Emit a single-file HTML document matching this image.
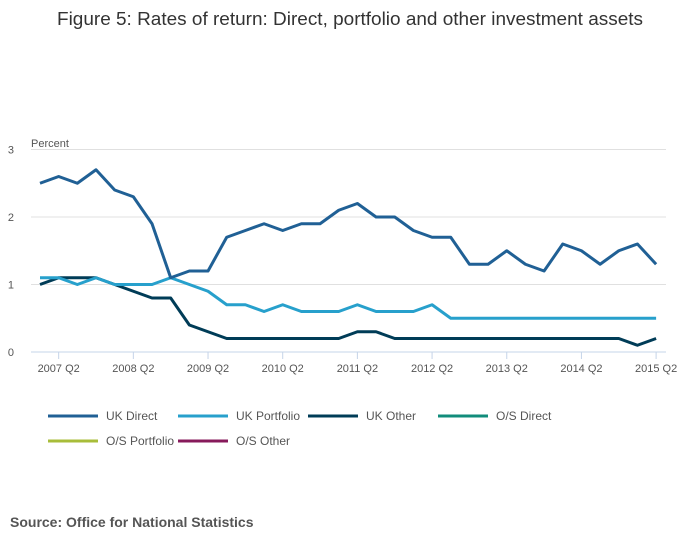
<!DOCTYPE html>
<html><head><meta charset="utf-8"><style>
body{margin:0;background:#fff;font-family:"Liberation Sans",sans-serif;}
svg text{font-family:"Liberation Sans",sans-serif;}
</style></head><body>
<svg width="700" height="549">
<text x="57" y="25" font-size="18.5" fill="#333" textLength="586" lengthAdjust="spacingAndGlyphs">Figure 5: Rates of return: Direct, portfolio and other investment assets</text>
<text x="31" y="147" font-size="11" fill="#555">Percent</text>
<g id="grid"></g><g id="xaxis"></g><g id="series"></g><g id="legend"></g>
<text x="10" y="527" font-size="14" font-weight="bold" fill="#555">Source: Office for National Statistics</text>
</svg>
<script>
const yTicks=[0,1,2,3];
const xTickLabels=["2007 Q2","2008 Q2","2009 Q2","2010 Q2","2011 Q2","2012 Q2","2013 Q2","2014 Q2","2015 Q2"];
const ukDirect=[2.5,2.6,2.5,2.7,2.4,2.3,1.9,1.1,1.2,1.2,1.7,1.8,1.9,1.8,1.9,1.9,2.1,2.2,2.0,2.0,1.8,1.7,1.7,1.3,1.3,1.5,1.3,1.2,1.6,1.5,1.3,1.5,1.6,1.3];
const ukPortfolio=[1.1,1.1,1.0,1.1,1.0,1.0,1.0,1.1,1.0,0.9,0.7,0.7,0.6,0.7,0.6,0.6,0.6,0.7,0.6,0.6,0.6,0.7,0.5,0.5,0.5,0.5,0.5,0.5,0.5,0.5,0.5,0.5,0.5,0.5];
const ukOther=[1.0,1.1,1.1,1.1,1.0,0.9,0.8,0.8,0.4,0.3,0.2,0.2,0.2,0.2,0.2,0.2,0.2,0.3,0.3,0.2,0.2,0.2,0.2,0.2,0.2,0.2,0.2,0.2,0.2,0.2,0.2,0.2,0.1,0.2];
const seriesNames=["UK Direct","UK Portfolio","UK Other","O/S Direct","O/S Portfolio","O/S Other"];
const seriesColors=["#206095","#27a0cc","#003c57","#118c7b","#a8bd3a","#871a5b"];
const NS="http://www.w3.org/2000/svg";
const x0=40,dx=18.67,yBase=352,yTop=149.5,yMax=3;
const xs=i=>x0+i*dx;
const ys=v=>yBase-(v/yMax)*(yBase-yTop);
function mk(t,a,p){const e=document.createElementNS(NS,t);for(const k in a)e.setAttribute(k,a[k]);p.appendChild(e);return e;}
const grid=document.getElementById('grid');
yTicks.forEach(v=>{
 const l=mk('line',{x1:31,x2:666,y1:ys(v),y2:ys(v),stroke:v===0?'#c5d4e8':'#e0e0e0','stroke-width':1},grid);
 
 
 const t=mk('text',{x:14,y:ys(v)+4,'font-size':11,fill:'#555','text-anchor':'end'},grid);
 
 
 t.textContent=v;
});
const xa=document.getElementById('xaxis');
xTickLabels.forEach((s,k)=>{
 const x=xs(1+k*4);
 const l=mk('line',{x1:x,x2:x,y1:352,y2:359,stroke:'#c5d4e8'},xa);
 
 
 const t=mk('text',{x:x,y:372,'font-size':11,fill:'#555','text-anchor':'middle'},xa);
 
 
 t.textContent=s;
});
const sg=document.getElementById('series');
[[ukOther,2],[ukPortfolio,1],[ukDirect,0]].forEach(([d,ci])=>{
 const p=mk('polyline',{points:d.map((v,i)=>xs(i)+','+ys(v)).join(' '),fill:'none',stroke:seriesColors[ci],'stroke-width':3,'stroke-linejoin':'round'},sg);
 
 
});
const lg=document.getElementById('legend');
seriesNames.forEach((n,i)=>{
 const col=i%4,row=Math.floor(i/4);
 const x=48+col*130,y=416+row*25;
 const g=mk('g',{},lg);
 
 
 mk('line',{x1:x,x2:x+50,y1:y,y2:y,stroke:seriesColors[i],'stroke-width':3},g);
 const t=mk('text',{x:x+58,y:y+4,'font-size':12,fill:'#555'},g);
 t.textContent=n;
});
</script>
</body></html>
